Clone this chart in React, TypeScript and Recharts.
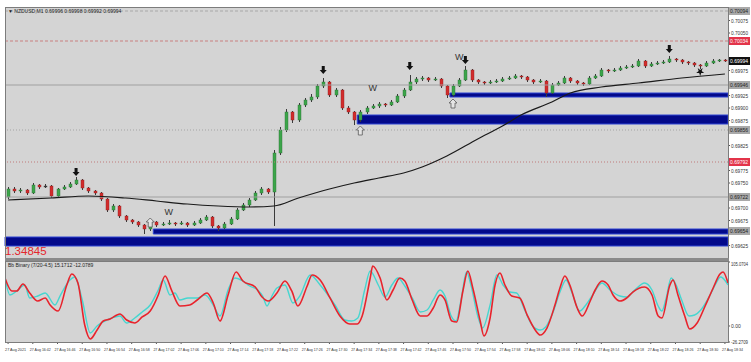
import React from "react";
import {
  Bar,
  CartesianGrid,
  ComposedChart,
  Line,
  ReferenceArea,
  ReferenceDot,
  ReferenceLine,
  XAxis,
  YAxis,
} from "recharts";

// NZDUSD M1 candles
const opens = [
  0.69722, 0.69738, 0.69734, 0.69736, 0.6973, 0.69746, 0.69742, 0.69744, 0.69724, 0.69738,
  0.69742, 0.69748, 0.69756, 0.6974, 0.69734, 0.6973, 0.69718, 0.69696, 0.69704, 0.69684,
  0.69676, 0.69672, 0.69666, 0.69658, 0.69672, 0.69666, 0.69668, 0.6967, 0.69668, 0.6967,
  0.69666, 0.6967, 0.69676, 0.69682, 0.69664, 0.6966, 0.69668, 0.69678, 0.69696, 0.69706,
  0.69716, 0.6973, 0.69738, 0.69732, 0.6981, 0.69856, 0.69892, 0.69876, 0.69906, 0.69916,
  0.69922, 0.69944, 0.69952, 0.69926, 0.69936, 0.699, 0.69892, 0.69876, 0.69892, 0.699,
  0.69904, 0.69908, 0.69906, 0.69912, 0.69924, 0.69936, 0.69952, 0.69958, 0.6996, 0.69956,
  0.69958, 0.69944, 0.69926, 0.69944, 0.69956, 0.69976, 0.69956, 0.69952, 0.6995, 0.69952,
  0.69954, 0.69958, 0.6996, 0.69964, 0.69962, 0.69956, 0.69952, 0.69954, 0.6993, 0.69946,
  0.6995, 0.6996, 0.69954, 0.6995, 0.69948, 0.6996, 0.69964, 0.69976, 0.69974, 0.69976,
  0.6998, 0.69982, 0.69984, 0.69994, 0.69984, 0.69988, 0.6999, 0.69992, 0.69998, 0.69996,
  0.69992, 0.6999, 0.69986, 0.69984, 0.6999, 0.69994, 0.69996,
];
const closes = [
  0.69738, 0.69734, 0.69736, 0.6973, 0.69746, 0.69742, 0.69744, 0.69724, 0.69738, 0.69742,
  0.69748, 0.69756, 0.6974, 0.69734, 0.6973, 0.69718, 0.69696, 0.69704, 0.69684, 0.69676,
  0.69672, 0.69666, 0.69658, 0.69672, 0.69666, 0.69668, 0.6967, 0.69668, 0.6967, 0.69666,
  0.6967, 0.69676, 0.69682, 0.69664, 0.6966, 0.69668, 0.69678, 0.69696, 0.69706, 0.69716,
  0.6973, 0.69738, 0.69732, 0.6981, 0.69856, 0.69892, 0.69876, 0.69906, 0.69916, 0.69922,
  0.69944, 0.69952, 0.69926, 0.69936, 0.699, 0.69892, 0.69876, 0.69892, 0.699, 0.69904,
  0.69908, 0.69906, 0.69912, 0.69924, 0.69936, 0.69952, 0.69958, 0.6996, 0.69956, 0.69958,
  0.69944, 0.69926, 0.69944, 0.69956, 0.69976, 0.69956, 0.69952, 0.6995, 0.69952, 0.69954,
  0.69958, 0.6996, 0.69964, 0.69962, 0.69956, 0.69952, 0.69954, 0.6993, 0.69946, 0.6995,
  0.6996, 0.69954, 0.6995, 0.69948, 0.6996, 0.69964, 0.69976, 0.69974, 0.69976, 0.6998,
  0.69982, 0.69984, 0.69994, 0.69984, 0.69988, 0.6999, 0.69992, 0.69998, 0.69996, 0.69992,
  0.6999, 0.69986, 0.69984, 0.6999, 0.69994, 0.69996, 0.69994,
];
const highs = [
  0.69742, 0.69742, 0.6974, 0.69738, 0.6975, 0.69748, 0.69748, 0.69746, 0.6974, 0.69746,
  0.69752, 0.69762, 0.69758, 0.69742, 0.69736, 0.69732, 0.6972, 0.69708, 0.69706, 0.69686,
  0.69678, 0.69674, 0.69668, 0.69676, 0.69674, 0.69672, 0.69676, 0.69672, 0.69674, 0.69672,
  0.69674, 0.6968, 0.69686, 0.69684, 0.69666, 0.69672, 0.69682, 0.697, 0.6971, 0.6972,
  0.69734, 0.69742, 0.6974, 0.69816, 0.69862, 0.69898, 0.69894, 0.6991, 0.6992, 0.69928,
  0.69948, 0.6996, 0.69954, 0.6994, 0.69938, 0.69904, 0.69894, 0.69896, 0.69904, 0.69908,
  0.69912, 0.6991, 0.69916, 0.69928, 0.6994, 0.69966, 0.69962, 0.69964, 0.69962, 0.69962,
  0.6996, 0.69946, 0.69948, 0.6996, 0.69984, 0.69978, 0.69958, 0.69954, 0.69956, 0.69958,
  0.69962, 0.69964, 0.69968, 0.69966, 0.69964, 0.69958, 0.69958, 0.69956, 0.6995, 0.69954,
  0.69964, 0.69962, 0.69956, 0.69952, 0.69964, 0.69968, 0.6998, 0.69978, 0.6998, 0.69984,
  0.69986, 0.69988, 0.69998, 0.69996, 0.69992, 0.69994, 0.69996, 0.70004, 0.7, 0.69998,
  0.69994, 0.69992, 0.69988, 0.69994, 0.69998, 0.69998, 0.69998,
];
const lows = [
  0.69718, 0.6973, 0.6973, 0.69726, 0.69728, 0.69738, 0.6974, 0.6972, 0.69722, 0.69736,
  0.6974, 0.69746, 0.69736, 0.6973, 0.69726, 0.69714, 0.69692, 0.69692, 0.6968, 0.69672,
  0.69668, 0.69662, 0.69648, 0.69654, 0.69662, 0.69664, 0.69666, 0.69664, 0.69666, 0.69662,
  0.69664, 0.69668, 0.69674, 0.6966, 0.69654, 0.69658, 0.69666, 0.69676, 0.69694, 0.69702,
  0.69714, 0.69726, 0.69728, 0.69664, 0.69806, 0.69852, 0.6987, 0.69872, 0.69902, 0.69912,
  0.69918, 0.6994, 0.69922, 0.69922, 0.69896, 0.69888, 0.69866, 0.69872, 0.69888, 0.69898,
  0.699, 0.69902, 0.69904, 0.6991, 0.6992, 0.69934, 0.69948, 0.69954, 0.69952, 0.69954,
  0.6994, 0.6992, 0.69922, 0.69942, 0.69954, 0.69952, 0.69948, 0.69946, 0.69948, 0.6995,
  0.69952, 0.69956, 0.69958, 0.69958, 0.69952, 0.69948, 0.6995, 0.69922, 0.69928, 0.69944,
  0.69948, 0.6995, 0.69946, 0.69944, 0.69946, 0.69958, 0.69962, 0.6997, 0.69972, 0.69974,
  0.69978, 0.6998, 0.69982, 0.6998, 0.69982, 0.69986, 0.69988, 0.6999, 0.69992, 0.69988,
  0.69986, 0.69982, 0.69978, 0.69982, 0.69988, 0.69992, 0.69992,
];

// moving average, sampled where it could be read
const maBars = [0, 7, 13, 19, 24, 29, 34, 39, 43, 47, 52, 56, 60, 64, 67, 71, 76, 80, 83, 88, 91, 96, 102, 109, 116];
const maValues = [
  0.69716, 0.6972, 0.69724, 0.6972, 0.69714, 0.69708, 0.69704, 0.69702, 0.69704, 0.6972,
  0.69738, 0.6975, 0.6976, 0.6977, 0.69782, 0.69804, 0.69838, 0.69864, 0.69886, 0.69912,
  0.6993, 0.69942, 0.6995, 0.6996, 0.69968,
];

// supply / demand zones: first bar, top, bottom
const zoneStart = [72, 57, 24, 0];
const zoneTop = [0.6993, 0.69886, 0.69658, 0.69642];
const zoneBottom = [0.69922, 0.69868, 0.69648, 0.69624];

// horizontal levels
const levelPrices = [0.70094, 0.70034, 0.69946, 0.69856, 0.69792, 0.69722, 0.69654];
const levelKinds = ["grayDash", "redDash", "gray", "grayDot", "redDot", "gray", "none"];

// chart objects
const fractalBars = [11, 51, 65, 74, 107];
const fractalPrices = [0.6976, 0.69964, 0.69972, 0.69984, 0.70006];
const starBars = [112];
const starPrices = [0.6998];
const hollowBars = [57, 72, 23];
const hollowPrices = [0.69864, 0.69918, 0.6968];
const wBars = [26, 59, 73];
const wPrices = [0.69686, 0.69934, 0.69996];

const priceTicks = [
  0.70075, 0.7005, 0.69975, 0.69925, 0.699, 0.69875, 0.69825, 0.69775, 0.6975, 0.697, 0.69675,
  0.69625,
];

// oscillator (red main, cyan signal): bar position and value
const redX = [
  -0.5, 0.6, 1.4, 2.4, 3.5, 4.8, 6.0, 6.8, 8.1, 9.5, 10.3, 11.3, 12.4, 13.3, 14.4, 15.4, 16.5,
  18.1, 19.2, 20.5, 21.7, 23.0, 24.3, 25.4, 26.5, 27.8, 29.4, 30.6, 32.2, 33.2, 34.3, 35.6, 36.9,
  38.0, 40.0, 41.1, 42.1, 43.5, 44.8, 45.9, 46.9, 48.4, 49.2, 50.5, 52.1, 53.7, 55.3, 56.5, 57.3,
  58.6, 59.0, 60.2, 61.3, 62.3, 63.4, 64.2, 65.4, 66.7, 67.8, 68.8, 69.9, 70.7, 71.8, 72.6, 73.6,
  74.4, 75.2, 76.4, 77.0, 78.0, 78.8, 79.6, 80.4, 81.5, 82.8, 84.0, 85.3, 86.1, 87.2, 88.5, 89.3,
  90.1, 90.9, 92.1, 92.9, 94.2, 95.0, 96.1, 97.1, 97.9, 99.0, 100.1, 101.1, 103.0, 104.2, 105.2,
  105.8, 107.1, 107.6, 108.4, 109.5, 110.3, 111.5, 112.8, 114.1, 115.2, 115.7, 116.5,
];
const redV = [
  78.8, 57.5, 57.5, 69.0, 54.2, 41.0, 46.0, 34.5, 24.6, 67.3, 85.4, 70.6, 1.6, -21.3, -6.6, 8.2,
  11.5, 19.7, 9.8, 4.9, 14.8, 24.6, 50.9, 82.1, 57.5, 32.8, 34.5, 42.7, 54.2, 37.8, 8.2, 50.9,
  88.7, 73.9, 64.0, 47.6, 41.0, 54.2, 73.9, 57.5, 32.8, 65.7, 83.7, 75.5, 46.0, 16.4, 3.3, 3.3,
  16.4, 78.8, 98.5, 78.8, 42.7, 59.1, 78.8, 73.9, 42.7, 16.4, 16.4, 29.5, 50.9, 42.7, 8.2, 6.6,
  57.5, 90.3, 62.4, 8.2, -16.4, 13.1, 67.3, 87.0, 67.3, 49.2, 46.0, 18.0, -6.6, -14.8, -3.3, 34.5,
  62.4, 82.1, 67.3, 29.5, 16.4, 41.0, 59.1, 73.9, 67.3, 50.9, 41.0, 46.0, 55.8, 64.0, 50.9, 16.4,
  13.1, 67.3, 75.5, 50.9, 16.4, -5.0, 4.9, 32.8, 62.4, 85.4, 88.7, 70.6,
];
const cyanX = [
  -0.5, 0.3, 1.4, 2.7, 3.5, 4.8, 6.0, 7.6, 8.4, 10.0, 10.8, 12.0, 13.3, 14.4, 15.4, 16.8, 18.1,
  19.2, 20.5, 21.7, 23.0, 24.3, 25.1, 26.2, 27.0, 27.8, 29.1, 30.6, 31.9, 33.2, 34.3, 35.6, 36.7,
  38.0, 39.1, 40.4, 41.2, 41.9, 42.7, 43.5, 44.8, 46.1, 47.2, 48.9, 50.5, 52.9, 54.5, 55.6, 56.6,
  57.7, 58.6, 59.9, 61.0, 62.1, 63.1, 64.2, 65.4, 66.7, 67.8, 68.8, 69.9, 70.7, 71.7, 72.5, 73.3,
  74.2, 74.9, 76.0, 76.8, 78.0, 79.1, 80.1, 81.2, 82.3, 83.6, 84.9, 86.1, 87.0, 88.2, 89.3, 90.3,
  91.2, 92.5, 93.5, 94.6, 96.1, 97.4, 99.0, 100.1, 101.4, 103.0, 104.2, 105.2, 105.8, 106.5,
  107.3, 108.1, 109.0, 110.2, 111.1, 112.1, 113.6, 114.5, 115.3, 116.2, 116.5,
];
const cyanV = [
  78.8, 50.9, 57.5, 67.3, 46.0, 49.2, 54.2, 34.5, 49.2, 75.5, 80.4, 42.7, -11.5, 0.0, 6.6, 13.1,
  16.4, 4.9, 13.1, 23.0, 34.5, 59.1, 75.5, 50.9, 54.2, 42.7, 46.0, 46.0, 50.9, 34.5, 16.4, 59.1,
  78.8, 73.9, 65.7, 59.1, 49.2, 32.8, 49.2, 62.4, 67.3, 37.8, 49.2, 83.7, 67.3, 34.5, 9.8, 8.2,
  13.1, 59.1, 90.3, 67.3, 47.6, 67.3, 78.8, 65.7, 46.0, 23.0, 26.3, 42.7, 59.1, 49.2, 16.4, 8.2,
  42.7, 88.7, 67.3, 16.4, -3.3, 34.5, 83.7, 67.3, 55.8, 54.2, 26.3, 0.0, -6.6, -1.6, 23.0, 55.8,
  75.5, 55.8, 24.6, 34.5, 50.9, 70.6, 59.1, 49.2, 47.6, 59.1, 70.6, 59.1, 32.8, 24.6, 46.0, 78.8,
  67.3, 42.7, 16.4, 18.1, 26.3, 50.9, 69.0, 80.4, 72.2, 67.3,
];
const oscTicks = [105.0704, 0, -26.2709];

const timeLabels = [
  "27 Aug 2021", "27 Aug 16:42", "27 Aug 16:46", "27 Aug 16:50", "27 Aug 16:54",
  "27 Aug 16:58", "27 Aug 17:02", "27 Aug 17:06", "27 Aug 17:10", "27 Aug 17:14",
  "27 Aug 17:18", "27 Aug 17:22", "27 Aug 17:26", "27 Aug 17:30", "27 Aug 17:34",
  "27 Aug 17:38", "27 Aug 17:42", "27 Aug 17:46", "27 Aug 17:50", "27 Aug 17:54",
  "27 Aug 17:58", "27 Aug 18:02", "27 Aug 18:06", "27 Aug 18:10", "27 Aug 18:14",
  "27 Aug 18:18", "27 Aug 18:22", "27 Aug 18:26", "27 Aug 18:30", "27 Aug 18:34",
];
const timeTickBars = [
  0, 4, 8, 12, 16, 20, 24, 28, 32, 36, 40, 44, 48, 52, 56, 60, 64, 68, 72, 76, 80, 84, 88, 92,
  96, 100, 104, 108, 112, 116,
];

const FONT = "'Liberation Sans', Arial, sans-serif";
const PLOT_BG = "#d4d4d4";
const UP = "#3ca54a";
const DOWN = "#d22c2c";

const candles = opens.map((o, i) => ({
  i,
  o,
  h: highs[i],
  l: lows[i],
  c: closes[i],
  range: [lows[i], highs[i]],
  ma: maBars.includes(i) ? maValues[maBars.indexOf(i)] : null,
}));

const redData = redX.map((x, k) => ({ x, v: redV[k] }));
const cyanData = cyanX.map((x, k) => ({ x, v: cyanV[k] }));

function Candle(props: any) {
  const { x, y, width, height, payload } = props;
  const { o, h, l, c } = payload;
  const top = Math.min(y, y + height);
  const span = Math.abs(height);
  const py = (p: number) => (h === l ? top : top + ((h - p) / (h - l)) * span);
  const cx = Math.round(x + width / 2) + 0.5;
  const yO = py(o);
  const yC = py(c);
  const flat = Math.abs(yO - yC) < 1;
  const fill = flat ? "#3a3a3a" : c > o ? UP : DOWN;
  const edge = flat ? "#3a3a3a" : c > o ? "#2a6e32" : "#8e1e1e";
  return (
    <g>
      <line x1={cx} x2={cx} y1={top} y2={top + span} stroke="#3a3a3a" strokeWidth={1} />
      <rect
        x={cx - 1.5}
        y={Math.min(yO, yC)}
        width={3}
        height={Math.max(Math.abs(yC - yO), 1)}
        fill={fill}
        stroke={edge}
        strokeWidth={0.4}
      />
    </g>
  );
}

function AxisBox(props: any) {
  const { viewBox, text, bg, color } = props;
  if (!viewBox) return null;
  const x = viewBox.x + viewBox.width + 1;
  const y = viewBox.y;
  return (
    <g>
      <rect x={x} y={y - 4} width={21} height={8} fill={bg} />
      <text
        x={x + 1}
        y={y + 2}
        fontSize={5}
        fill={color}
        fontFamily={FONT}
        textLength={18}
        lengthAdjust="spacingAndGlyphs"
      >
        {text}
      </text>
    </g>
  );
}

function SideTick(props: any) {
  const { x, y, payload, fmt, topNudge } = props;
  const s = fmt(payload.value);
  const dy = topNudge && payload.value === topNudge ? 4 : 2;
  return (
    <text
      x={x - 1}
      y={y + dy}
      fontSize={5}
      fill="#333"
      fontFamily={FONT}
      textLength={s.length > 5 ? 17 : undefined}
      lengthAdjust="spacingAndGlyphs"
    >
      {s}
    </text>
  );
}

const lineStyle: Record<string, any> = {
  grayDash: { stroke: "#a8a8a8", dash: "3 2", box: "#a9a9a9", txt: "#222" },
  redDash: { stroke: "#c98080", dash: "3 2", box: "#e3344a", txt: "#fff" },
  gray: { stroke: "#a0a0a0", dash: undefined, box: "#a9a9a9", txt: "#222" },
  grayDot: { stroke: "#a4a4a4", dash: "1 2", box: "#a9a9a9", txt: "#222" },
  redDot: { stroke: "#c07a7a", dash: "1 2", box: "#e3344a", txt: "#fff" },
  none: { stroke: "transparent", dash: undefined, box: "#a9a9a9", txt: "#222" },
};

const Fractal = ({ cx, cy }: any) =>
  cx == null ? null : (
    <path d={`M${cx - 1.5},${cy - 10} h3 v4 h2 l-3.5,4 l-3.5,-4 h2 z`} fill="#111" />
  );
const Star = ({ cx, cy }: any) =>
  cx == null ? null : (
    <path
      d={`M${cx},${cy + 8} l1,-3 h3 l-2.5,-2 l1,-3 l-2.5,2 l-2.5,-2 l1,3 l-2.5,2 h3 z`}
      fill="#111"
    />
  );
const Hollow = ({ cx, cy }: any) =>
  cx == null ? null : (
    <path
      d={`M${cx},${cy} l4,4 h-2 v5 h-4 v-5 h-2 z`}
      fill="#e4e4e4"
      stroke="#5a5a5a"
      strokeWidth={0.8}
    />
  );
const WMark = ({ cx, cy }: any) =>
  cx == null ? null : (
    <text x={cx} y={cy} textAnchor="middle" fontSize={9} fill="#333" fontFamily={FONT}>
      W
    </text>
  );

function TimeTick(props: any) {
  const { x, y, payload } = props;
  const k = timeTickBars.indexOf(payload.value);
  return (
    <text
      x={x - 3}
      y={y + 5}
      fontSize={4.4}
      fill="#333"
      fontFamily={FONT}
      textLength={21}
      lengthAdjust="spacingAndGlyphs"
    >
      {timeLabels[k]}
    </text>
  );
}

const frame = (left: number, top: number, w: number, h: number, color: string) => (
  <div
    style={{
      position: "absolute",
      left,
      top,
      width: w,
      height: h,
      border: `1px solid ${color}`,
      boxSizing: "border-box",
      pointerEvents: "none",
    }}
  />
);

export default function App() {
  const last = closes[closes.length - 1];
  return (
    <div
      style={{
        position: "absolute",
        left: 0,
        top: 0,
        width: 751,
        height: 362,
        background: "#fff",
        overflow: "hidden",
        fontFamily: FONT,
      }}
    >
      <div style={{ position: "absolute", left: 0, top: 0 }}>
        <ComposedChart
          width={751}
          height={258}
          data={candles}
          margin={{ top: 8, right: 0, bottom: 0, left: 5 }}
        >
          <CartesianGrid horizontal={false} vertical={false} fill={PLOT_BG} stroke="none" />
          <XAxis dataKey="i" type="category" hide />
          <YAxis
            orientation="right"
            width={23}
            type="number"
            domain={[0.696, 0.701]}
            allowDataOverflow
            ticks={priceTicks}
            interval={0}
            tick={<SideTick fmt={(v: number) => v.toFixed(5)} />}
            tickSize={2}
            axisLine={false}
            tickLine={{ stroke: "#555" }}
          />
          {levelPrices.map((p, k) => {
            const s = lineStyle[levelKinds[k]];
            return (
              <ReferenceLine
                key={`lv${k}`}
                y={p}
                stroke={s.stroke}
                strokeDasharray={s.dash}
                strokeWidth={1}
                label={<AxisBox text={p.toFixed(5)} bg={s.box} color={s.txt} />}
              />
            );
          })}
          {zoneStart.map((b, k) => (
            <ReferenceArea
              key={`z${k}`}
              x1={b}
              x2={candles.length - 1}
              y1={zoneBottom[k]}
              y2={zoneTop[k]}
              fill="#03098a"
              fillOpacity={1}
              stroke="#2f44d4"
              strokeWidth={1}
            />
          ))}
          <Line
            dataKey="ma"
            type="monotone"
            connectNulls
            stroke="#1a1a1a"
            strokeWidth={1.2}
            dot={false}
            isAnimationActive={false}
          />
          <Bar dataKey="range" shape={<Candle />} isAnimationActive={false} />
          <ReferenceLine
            y={last}
            stroke="transparent"
            label={<AxisBox text={last.toFixed(5)} bg="#111" color="#fff" />}
          />
          {fractalBars.map((b, k) => (
            <ReferenceDot key={`f${k}`} x={b} y={fractalPrices[k]} shape={<Fractal />} />
          ))}
          {starBars.map((b, k) => (
            <ReferenceDot key={`s${k}`} x={b} y={starPrices[k]} shape={<Star />} />
          ))}
          {hollowBars.map((b, k) => (
            <ReferenceDot key={`h${k}`} x={b} y={hollowPrices[k]} shape={<Hollow />} />
          ))}
          {wBars.map((b, k) => (
            <ReferenceDot key={`w${k}`} x={b} y={wPrices[k]} shape={<WMark />} />
          ))}
        </ComposedChart>
      </div>

      <div style={{ position: "absolute", left: 0, top: 258 }}>
        <ComposedChart width={751} height={104} margin={{ top: 4, right: 0, bottom: 0, left: 5 }}>
          <CartesianGrid horizontal={false} vertical={false} fill={PLOT_BG} stroke="none" />
          <XAxis
            dataKey="x"
            type="number"
            domain={[-0.5, 116.5]}
            allowDataOverflow
            ticks={timeTickBars}
            interval={0}
            height={20}
            tick={<TimeTick />}
            tickSize={2}
            axisLine={false}
            tickLine={{ stroke: "#555" }}
          />
          <YAxis
            orientation="right"
            width={23}
            type="number"
            domain={[-26.2709, 105.0704]}
            allowDataOverflow
            ticks={oscTicks}
            interval={0}
            tick={
              <SideTick
                topNudge={oscTicks[0]}
                fmt={(v: number) => (v === 0 ? "0.00" : v.toFixed(4))}
              />
            }
            tickSize={2}
            axisLine={false}
            tickLine={{ stroke: "#555" }}
          />
          <Line
            data={cyanData}
            dataKey="v"
            type="monotone"
            stroke="#46d6d0"
            strokeWidth={1.4}
            dot={false}
            isAnimationActive={false}
          />
          <Line
            data={redData}
            dataKey="v"
            type="monotone"
            stroke="#e8232c"
            strokeWidth={1.6}
            dot={false}
            isAnimationActive={false}
          />
        </ComposedChart>
      </div>

      {frame(5, 7, 724, 252, "#7c7c7c")}
      <div
        style={{ position: "absolute", left: 5, top: 258, width: 724, height: 3, background: "#8a8a8a" }}
      />
      {frame(5, 261, 724, 82, "#7c7c7c")}

      <div
        style={{
          position: "absolute",
          left: 8,
          top: 8,
          fontSize: 5,
          color: "#222",
          whiteSpace: "nowrap",
        }}
      >
        ▼ NZDUSD,M1  0.69996 0.69998 0.69992 0.69994
      </div>
      <div
        style={{
          position: "absolute",
          left: 8,
          top: 262,
          fontSize: 5,
          color: "#222",
          whiteSpace: "nowrap",
        }}
      >
        Bb Binary (7/20-4.5) 15.1712 -12.0789
      </div>
      <div
        style={{
          position: "absolute",
          left: 5,
          top: 245,
          fontSize: 11.5,
          lineHeight: "13px",
          color: "#e5262c",
        }}
      >
        1.34845
      </div>
    </div>
  );
}
